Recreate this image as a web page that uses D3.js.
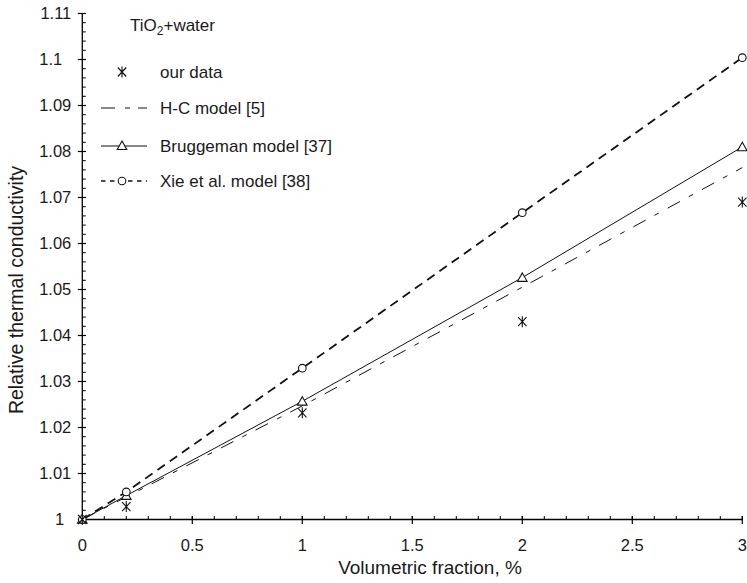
<!DOCTYPE html>
<html>
<head>
<meta charset="utf-8">
<script src="https://cdn.jsdelivr.net/npm/d3@7"></script>
<style>
  html, body { margin: 0; padding: 0; background: #fff; }
  svg { display: block; font-family: "Liberation Sans", Arial, sans-serif; fill: #1a1a1a; }
</style>
</head>
<body>
<div id="chart"></div>
<script>
// volume fraction (%) and relative thermal conductivity
const xVals = [0, 0.2, 1, 2, 3];
const ourData = [1.0, 1.0028, 1.0232, 1.043, 1.069];
const hcModel = [1.0, 1.0049, 1.0247, 1.0505, 1.0765];
const bruggeman = [1.0, 1.0052, 1.0257, 1.0526, 1.081];
const xieModel = [1.0, 1.006, 1.0329, 1.0667, 1.1004];

const xTicks = [0, 0.5, 1, 1.5, 2, 2.5, 3];
const yTicks = [1, 1.01, 1.02, 1.03, 1.04, 1.05, 1.06, 1.07, 1.08, 1.09, 1.1, 1.11];
const legendLabels = ["our data", "H-C model [5]", "Bruggeman model [37]", "Xie et al. model [38]"];

const width = 747, height = 583;

const svg = d3.select("#chart").append("svg")
    .attr("width", width)
    .attr("height", height);

const x = d3.scaleLinear().domain([0, 3]).range([82.3, 742.3]);
const y = d3.scaleLinear().domain([1, 1.11]).range([519.5, 13.5]);

// axes
const xAxis = svg.append("g").attr("transform", `translate(0,${y(1)})`);
xAxis.append("line")
    .attr("x1", x(0)).attr("x2", x(3))
    .attr("stroke", "#000").attr("stroke-width", 1.3);
xAxis.selectAll(".minor")
    .data(d3.range(0, 31).map(i => i / 10))
    .join("line")
    .attr("x1", d => x(d)).attr("x2", d => x(d))
    .attr("y1", 0).attr("y2", -3.5)
    .attr("stroke", "#000").attr("stroke-width", 1);
xAxis.selectAll(".major")
    .data(xTicks)
    .join("line")
    .attr("x1", d => x(d)).attr("x2", d => x(d))
    .attr("y1", -3.5).attr("y2", 4.5)
    .attr("stroke", "#000").attr("stroke-width", 1.2);
xAxis.selectAll("text")
    .data(xTicks)
    .join("text")
    .attr("x", d => x(d))
    .attr("y", 31)
    .attr("text-anchor", "middle")
    .style("font-size", "16.5px")
    .text(d => d);

const yAxis = svg.append("g").attr("transform", `translate(${x(0)},0)`);
yAxis.append("line")
    .attr("y1", y(1)).attr("y2", y(1.11))
    .attr("stroke", "#000").attr("stroke-width", 1.3);
yAxis.selectAll(".minor")
    .data(d3.range(0, 56).map(i => 1 + i * 0.002))
    .join("line")
    .attr("x1", 0).attr("x2", 3.5)
    .attr("y1", d => y(d)).attr("y2", d => y(d))
    .attr("stroke", "#000").attr("stroke-width", 1);
yAxis.selectAll(".major")
    .data(yTicks)
    .join("line")
    .attr("x1", -4.5).attr("x2", 3.5)
    .attr("y1", d => y(d)).attr("y2", d => y(d))
    .attr("stroke", "#000").attr("stroke-width", 1.2);
yAxis.selectAll("text")
    .data(yTicks)
    .join("text")
    .attr("x", d => {
        const s = String(+d.toFixed(2));
        return s.length === 1 ? -18 : s.length === 3 ? -20 : -11;
    })
    .attr("y", d => y(d))
    .attr("dy", "0.36em")
    .attr("text-anchor", "end")
    .style("font-size", "16.5px")
    .text(d => String(+d.toFixed(2)));

svg.append("text")
    .attr("x", 430).attr("y", 574)
    .attr("text-anchor", "middle")
    .style("font-size", "19px")
    .text("Volumetric fraction, %");

svg.append("text")
    .attr("transform", "translate(23,290) rotate(-90)")
    .attr("text-anchor", "middle")
    .style("font-size", "19.5px")
    .text("Relative thermal conductivity");

// symbols
const starPath = "M0,-5.5V5.5M-4.2,-4.5L4.2,4.5M-4.2,4.5L4.2,-4.5";
const triPath = "M0,-5.4L4.8,3H-4.8Z";

function drawStar(g, cx, cy) {
    g.append("path").attr("d", starPath)
        .attr("transform", `translate(${cx},${cy})`)
        .attr("fill", "none").attr("stroke", "#111").attr("stroke-width", 1.1);
}
function drawTri(g, cx, cy) {
    g.append("path").attr("d", triPath)
        .attr("transform", `translate(${cx},${cy})`)
        .attr("fill", "#fff").attr("stroke", "#111").attr("stroke-width", 1.1);
}
function drawCircle(g, cx, cy) {
    g.append("circle").attr("cx", cx).attr("cy", cy).attr("r", 3.8)
        .attr("fill", "#fff").attr("stroke", "#111").attr("stroke-width", 1.1);
}

const line = d3.line().x((d, i) => x(xVals[i])).y(d => y(d));
const plot = svg.append("g");

plot.append("path").datum(hcModel).attr("d", line)
    .attr("fill", "none").attr("stroke", "#111").attr("stroke-width", 1)
    .attr("stroke-dasharray", "14,10,5,10");
plot.append("path").datum(bruggeman).attr("d", line)
    .attr("fill", "none").attr("stroke", "#111").attr("stroke-width", 1);
plot.append("path").datum(xieModel).attr("d", line)
    .attr("fill", "none").attr("stroke", "#111").attr("stroke-width", 1.8)
    .attr("stroke-dasharray", "9,6");

bruggeman.forEach((v, i) => drawTri(plot, x(xVals[i]), y(v) + 0.8));
xieModel.forEach((v, i) => drawCircle(plot, x(xVals[i]), y(v)));
ourData.forEach((v, i) => drawStar(plot, x(xVals[i]), y(v)));

// legend
const lg = svg.append("g");
const tio = lg.append("text").attr("x", 130).attr("y", 31).style("font-size", "17px");
tio.append("tspan").text("TiO");
tio.append("tspan").attr("dy", 4).style("font-size", "12px").text("2");
tio.append("tspan").attr("dy", -4).text("+water");

const rowY = [72, 108, 146, 181];
legendLabels.forEach((t, i) => {
    lg.append("text").attr("x", 160).attr("y", rowY[i]).attr("dy", "0.35em")
        .style("font-size", "17px").text(t);
});
drawStar(lg, 122, rowY[0]);
lg.append("line").attr("x1", 101).attr("x2", 147).attr("y1", rowY[1]).attr("y2", rowY[1])
    .attr("stroke", "#111").attr("stroke-width", 1).attr("stroke-dasharray", "14,10,5,8,9");
lg.append("line").attr("x1", 101).attr("x2", 147).attr("y1", rowY[2]).attr("y2", rowY[2])
    .attr("stroke", "#111").attr("stroke-width", 1);
drawTri(lg, 122, rowY[2] + 0.5);
lg.append("line").attr("x1", 101).attr("x2", 147).attr("y1", rowY[3]).attr("y2", rowY[3])
    .attr("stroke", "#111").attr("stroke-width", 1.5).attr("stroke-dasharray", "4.5,4.5");
drawCircle(lg, 122, rowY[3]);
</script>
</body>
</html>
